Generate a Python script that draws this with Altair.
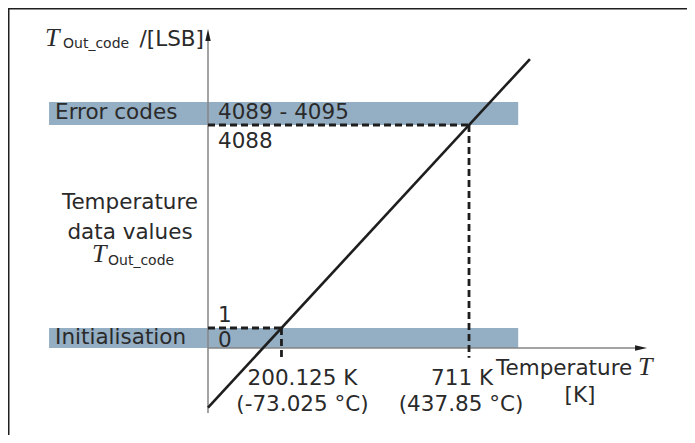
import altair as alt
import pandas as pd

# ---------------- values ----------------
# schematic coordinate system: x in Kelvin, y in output code [LSB]
K_DOMAIN = [-544.8, 1304.8]
CODE_DOMAIN = [-2153.2, 6443.5]

temps_K = [200.125, 711.0]
temp_K_labels = ["200.125 K", "711 K"]
temp_C_labels = ["(-73.025 °C)", "(437.85 °C)"]
codes = [1, 4088]

line_T = [0.0, 877.0]
line_code = [-1600.0, 5416.0]

band_names = ["Error codes", "Initialisation"]
band_values = ["4089 - 4095", "0"]
band_lo = [4088, -402]
band_hi = [4551, 1]
band_x0 = [-433, -433]
band_x1 = [845, 845]

x_axis_code = -402
x_axis_K = [0, 1196]
y_axis_code = [-1710, 6021]
tick_bottom_code = -600

# ---------------- styles ----------------
BAND = "#94aec3"
INK = "#1e1e1e"
TXT = "#2a2a2a"
AXIS = "#858585"
SANS = "DejaVu Sans"
SERIF = "Liberation Serif"
FS = 21.5
TS = 26

xs = alt.Scale(domain=K_DOMAIN, nice=False, zero=False)
ys = alt.Scale(domain=CODE_DOMAIN, nice=False, zero=False)


def X(f):
    return alt.X(f, type="quantitative", scale=xs, axis=None)


def Y(f):
    return alt.Y(f, type="quantitative", scale=ys, axis=None)


def lbl(text, k, c, dx=0, dy=0, align="left", baseline="alphabetic",
        font=SANS, size=FS, style="normal"):
    df = pd.DataFrame({"k": [k], "c": [c], "t": [text]})
    return alt.Chart(df).mark_text(
        align=align, baseline=baseline, dx=dx, dy=dy, font=font,
        fontSize=size, fontStyle=style, color=TXT
    ).encode(x=X("k"), y=Y("c"), text="t:N")


bands = pd.DataFrame({"name": band_names, "lo": band_lo, "hi": band_hi,
                      "x0": band_x0, "x1": band_x1})
band_layer = alt.Chart(bands).mark_rect(color=BAND).encode(
    x=X("x0"), x2="x1", y=Y("lo"), y2="hi")

# frame (top and left edges of the surrounding box)
frame_top = alt.Chart(pd.DataFrame({"a": [0]})).mark_rule(
    color=INK, strokeWidth=2).encode(x=alt.value(0), x2=alt.value(679),
                                     y=alt.value(0.5))
frame_left = alt.Chart(pd.DataFrame({"a": [0]})).mark_rule(
    color=INK, strokeWidth=2).encode(x=alt.value(0.5), y=alt.value(0),
                                     y2=alt.value(427))

# axes
yaxis = alt.Chart(pd.DataFrame({"k": [0], "c0": [y_axis_code[0]],
                                "c1": [y_axis_code[1] - 150]})).mark_rule(
    color=AXIS, strokeWidth=1.5).encode(x=X("k"), y=Y("c0"), y2="c1")
xaxis = alt.Chart(pd.DataFrame({"k0": [x_axis_K[0]], "k1": [x_axis_K[1] - 20],
                                "c": [x_axis_code]})).mark_rule(
    color=AXIS, strokeWidth=1.5).encode(x=X("k0"), x2="k1", y=Y("c"))
arrow_up = alt.Chart(pd.DataFrame({"k": [0], "c": [y_axis_code[1]]})).mark_point(
    shape="M0,0L0.45,2L-0.45,2Z", filled=True, size=144, color=INK,
    opacity=1, strokeWidth=0).encode(x=X("k"), y=Y("c"))
arrow_right = alt.Chart(pd.DataFrame({"k": [x_axis_K[1]], "c": [x_axis_code]})).mark_point(
    shape="M0,0L-2,-0.45L-2,0.45Z", filled=True, size=144, color=INK,
    opacity=1, strokeWidth=0).encode(x=X("k"), y=Y("c"))

# transfer line
line_layer = alt.Chart(pd.DataFrame({"T": line_T, "c": line_code})).mark_line(
    color=INK, strokeWidth=2.6).encode(x=X("T"), y=Y("c"))

# dashed guides
pts = pd.DataFrame({"T": temps_K, "c": codes, "z": [0, 0],
                    "b": [tick_bottom_code] * 2})
dash_h = alt.Chart(pts).mark_rule(color=INK, strokeWidth=2.8,
                                  strokeDash=[7, 4]).encode(
    x=X("z"), x2="T", y=Y("c"))
dash_v = alt.Chart(pts).mark_rule(color=INK, strokeWidth=2.8,
                                  strokeDash=[7, 4]).encode(
    x=X("T"), y=Y("c"), y2="b")

err_mid = (band_lo[0] + band_hi[0]) / 2
init_mid = (band_lo[1] + band_hi[1]) / 2

labels = [
    # y-axis title
    lbl("T", -444, 5679, font=SERIF, size=TS, style="italic"),
    lbl("Out_code", -444, 5679, dx=18, dy=2, size=14),
    lbl("/[LSB]", 0, 5679, dx=-4, align="right"),
    # bands
    lbl(band_names[0], band_x0[0], err_mid, dx=6, baseline="middle"),
    lbl(band_values[0], 0, err_mid, dx=10, baseline="middle"),
    lbl(str(codes[1]), 0, codes[1], dx=10, dy=23),
    lbl(band_names[1], band_x0[1], init_mid, dx=6, baseline="middle"),
    lbl(str(codes[0]), 0, codes[0], dx=10, dy=-6),
    lbl(band_values[1], 0, x_axis_code, dx=10, dy=-1),
    # middle description
    lbl("Temperature", -212.5, 2397, align="center"),
    lbl("data values", -212.5, 1793, align="center"),
    lbl("T", -316, 1330, font=SERIF, size=TS, style="italic"),
    lbl("Out_code", -316, 1330, dx=16, dy=3, size=14),
    # x labels
    lbl(temp_K_labels[0], temps_K[0], x_axis_code, dx=21, dy=37, align="center"),
    lbl(temp_C_labels[0], temps_K[0], x_axis_code, dx=21, dy=63, align="center"),
    lbl(temp_K_labels[1], temps_K[1], x_axis_code, dx=-7, dy=37, align="center"),
    lbl(temp_C_labels[1], temps_K[1], x_axis_code, dx=-8, dy=63, align="center"),
    # x-axis title
    lbl("Temperature", x_axis_K[1], x_axis_code, dx=-151, dy=27),
    lbl("T", x_axis_K[1], x_axis_code, dx=-9, dy=27, font=SERIF, size=TS,
        style="italic"),
    lbl("[K]", x_axis_K[1], x_axis_code, dx=-67, dy=54, align="center"),
]

chart = alt.layer(
    band_layer, frame_top, frame_left, yaxis, xaxis, dash_h, dash_v,
    line_layer, arrow_up, arrow_right, *labels
).properties(
    width=679, height=427, padding=0,
    autosize=alt.AutoSizeParams(type="none")
).configure_view(stroke=None).configure(background="white")

chart.save("out.html", embed_options={"renderer": "svg", "actions": False})
